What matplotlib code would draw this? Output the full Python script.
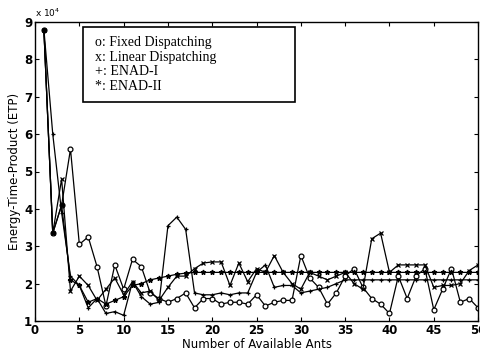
import numpy as np
import matplotlib.pyplot as plt
from matplotlib.patches import Rectangle

# ===============================
# DATA (ETP in units of 10^4)
# ===============================

ants = np.arange(1, 51)

fixed = [8.8, 3.35, 4.1, 5.6, 3.05, 3.25, 2.45, 1.4, 2.5, 1.85,
         2.65, 2.45, 1.75, 1.6, 1.5, 1.6, 1.75, 1.35, 1.6, 1.6,
         1.45, 1.5, 1.5, 1.45, 1.7, 1.4, 1.5, 1.55, 1.55, 2.75,
         2.15, 1.9, 1.45, 1.75, 2.2, 2.4, 1.9, 1.6, 1.45, 1.2,
         2.2, 1.6, 2.2, 2.4, 1.3, 1.85, 2.4, 1.5, 1.6, 1.35]

linear = [8.8, 3.35, 4.8, 1.8, 2.2, 1.95, 1.55, 1.85, 2.15, 1.7,
          2.05, 1.75, 1.8, 1.55, 1.9, 2.2, 2.2, 2.4, 2.55, 2.58,
          2.58, 1.95, 2.55, 2.05, 2.4, 2.3, 2.75, 2.3, 2.0, 1.85,
          2.3, 2.2, 2.1, 2.2, 2.3, 2.0, 1.85, 3.2, 3.35, 2.3,
          2.5, 2.5, 2.5, 2.5, 1.9, 1.95, 1.95, 2.0, 2.35, 2.5]

enad1 = [8.8, 6.0, 3.9, 2.2, 1.95, 1.35, 1.6, 1.2, 1.25, 1.15,
         2.05, 1.65, 1.45, 1.5, 3.55, 3.78, 3.45, 1.75, 1.7, 1.7,
         1.75, 1.7, 1.75, 1.75, 2.3, 2.5, 1.9, 1.95, 1.95, 1.75,
         1.8, 1.85, 1.9, 2.0, 2.1, 2.1, 2.1, 2.1, 2.1, 2.1,
         2.1, 2.1, 2.1, 2.1, 2.1, 2.1, 2.1, 2.1, 2.1, 2.1]

enad2 = [8.8, 3.35, 4.1, 2.1, 1.95, 1.5, 1.6, 1.45, 1.55, 1.65,
         1.95, 2.0, 2.1, 2.15, 2.2, 2.25, 2.28] + [2.3] * 33

legend_lines = ["o: Fixed Dispatching", "x: Linear Dispatching",
                "+: ENAD-I", "*: ENAD-II"]

# ===============================
# PLOT
# ===============================

fig = plt.figure(figsize=(4.8, 3.5), dpi=100)
ax = fig.add_axes([0.073, 0.083, 0.923, 0.854])

ax.plot(ants, fixed, color='black', lw=0.9, marker='o', ms=3.5,
        mfc='white', mec='black', mew=0.9)
ax.plot(ants, linear, color='black', lw=0.9, marker='x', ms=3, mew=0.9)
ax.plot(ants, enad1, color='black', lw=0.9, marker='+', ms=3.5, mew=0.9)
ax.plot(ants, enad2, color='black', lw=0.9, marker='*', ms=3.5)

ax.set_xlim(0, 50)
ax.set_ylim(1, 9)
ax.set_xticks(range(0, 51, 5))
ax.set_yticks(range(1, 10))
ax.tick_params(direction='in', top=True, right=True, labelsize=8.5, length=3,
               pad=2)
for lab in ax.get_xticklabels() + ax.get_yticklabels():
    lab.set_fontweight('bold')
for sp in ax.spines.values():
    sp.set_linewidth(1.0)

ax.set_xlabel("Number of Available Ants", fontsize=8.5, labelpad=1)
ax.set_ylabel("Energy-Time-Product (ETP)", fontsize=8.5, labelpad=2)
ax.text(0.0, 1.01, r"x 10$^4$", transform=ax.transAxes, fontsize=6.5,
        ha='left', va='bottom')

# legend box drawn as text-only entries, like the original
ax.add_patch(Rectangle((0.108, 0.732), 0.479, 0.251, transform=ax.transAxes,
                       fc='white', ec='black', lw=1.2, zorder=5))
for i, line in enumerate(legend_lines):
    ax.text(0.135, 0.933 - i * 0.05, line, transform=ax.transAxes,
            family='Liberation Serif', fontsize=10, va='center', ha='left',
            zorder=6)

plt.savefig("out.png", dpi=100)
plt.close()
